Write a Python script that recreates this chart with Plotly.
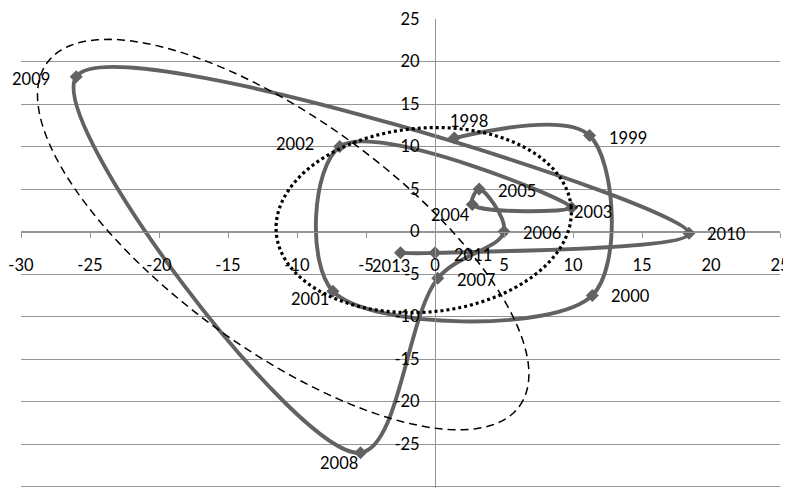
import numpy as np
import plotly.graph_objects as go

# ---------------- data ----------------
years = ["1998", "1999", "2000", "2001", "2002", "2003", "2004", "2005",
         "2006", "2007", "2008", "2009", "2010", "2011", "2013"]
x_vals = [1.4, 11.2, 11.4, -7.4, -6.9, 9.9, 2.7, 3.2,
          5.0, 0.2, -5.4, -26.0, 18.4, 0.0, -2.5]
y_vals = [11.0, 11.3, -7.5, -7.0, 10.0, 2.8, 3.2, 5.0,
          0.0, -5.5, -26.0, 18.2, -0.2, -2.5, -2.5]

x_ticks = [-30, -25, -20, -15, -10, -5, 0, 5, 10, 15, 20, 25]
x_tick_labels = ["-30", "-25", "-20", "-15", "-10", "-5", "0", "5", "10", "15", "20", "25"]
y_ticks = [-30, -25, -20, -15, -10, -5, 0, 5, 10, 15, 20, 25]
y_tick_labels = ["-30", "-25", "-20", "-15", "-10", "-5", "0", "5", "10", "15", "20", "25"]

# ---------------- style / layout ----------------
# the page body has an 8px default margin, so the figure is sized to fit
W, H = 783, 482
ML, MR, MT, MB = 13, 11, 11, 2
XR = (-30, 25)
YR = (-30.15, 25)
SX = (W - ML - MR) / (XR[1] - XR[0])   # px per x unit
SY = (H - MT - MB) / (YR[1] - YR[0])   # px per y unit

LINE_COL = "#626262"
GRID_COL = "#959595"
FONT = dict(family="Lato, Carlito, 'Open Sans', sans-serif", size=16.5, color="#000000")

# label offsets (px, right / down) relative to each marker
label_offsets = {
    "1998": (15, -17), "1999": (38, 2), "2000": (38, 1), "2001": (-23, 8),
    "2002": (-45, -3), "2003": (21, 4), "2004": (-22, 11), "2005": (38, 2),
    "2006": (38, 1), "2007": (38, 2), "2008": (-21, 10), "2009": (-45, 2),
    "2010": (38, 1), "2011": (38, 2), "2013": (-10, 13),
}

fig = go.Figure()
fig.add_trace(go.Scatter(
    x=x_vals, y=y_vals, mode="lines+markers",
    line=dict(color=LINE_COL, width=3.9, shape="spline", smoothing=1.0),
    marker=dict(symbol="diamond", size=10, color=LINE_COL),
    hoverinfo="skip", showlegend=False,
))

for yr, xv, yv in zip(years, x_vals, y_vals):
    dx, dy = label_offsets[yr]
    fig.add_annotation(x=xv, y=yv, text=yr, showarrow=False,
                       xanchor="center", yanchor="middle",
                       xshift=dx, yshift=-dy, font=FONT)


def ellipse_path(cx, cy, a_px, b_px, ang_deg, n=160):
    """Closed ellipse path in data coords; semi-axes given in screen px,
    angle measured counter-clockwise on screen."""
    ang = np.radians(ang_deg)
    t = np.linspace(0, 2 * np.pi, n, endpoint=False)
    ox = a_px * np.cos(t) * np.cos(ang) - b_px * np.sin(t) * np.sin(ang)
    oy = a_px * np.cos(t) * np.sin(ang) + b_px * np.sin(t) * np.cos(ang)
    xs = cx + ox / SX
    ys = cy + oy / SY
    return "M " + " L ".join(f"{a:.4f},{b:.4f}" for a, b in zip(xs, ys)) + " Z"


# dashed (wide, tilted) ellipse
fig.add_shape(type="path", xref="x", yref="y", layer="above",
              path=ellipse_path(-11.0, -0.35, 292, 115, -36),
              line=dict(color="black", width=1.5, dash="8px,5px"))
# dotted ellipse
fig.add_shape(type="path", xref="x", yref="y", layer="above",
              path=ellipse_path(-0.82, 1.35, 148, 92, 5),
              line=dict(color="black", width=3.2, dash="3px,3px"))

zero_frac_x = (0 - XR[0]) / (XR[1] - XR[0])
zero_frac_y = (0 - YR[0]) / (YR[1] - YR[0])

fig.update_layout(
    width=W, height=H,
    margin=dict(l=ML, r=MR, t=MT, b=MB, pad=0, autoexpand=False),
    paper_bgcolor="white", plot_bgcolor="white",
    font=FONT,
    showlegend=False,
    xaxis=dict(
        range=list(XR), tickmode="array", tickvals=x_ticks, ticktext=x_tick_labels,
        showgrid=False, zeroline=False, automargin=False,
        showline=True, linecolor=GRID_COL, linewidth=1,
        ticks="outside", ticklen=5, tickcolor=GRID_COL, tickwidth=1,
        anchor="free", position=zero_frac_y,
        ticklabelstandoff=14,
        tickfont=FONT, fixedrange=True,
    ),
    yaxis=dict(
        range=list(YR), tickmode="array", tickvals=y_ticks, ticktext=y_tick_labels,
        showgrid=True, gridcolor=GRID_COL, gridwidth=1, zeroline=False, automargin=False,
        showline=True, linecolor=GRID_COL, linewidth=1,
        ticks="", anchor="free", position=zero_frac_x,
        ticklabelstandoff=12,
        tickfont=FONT, fixedrange=True,
    ),
)

fig.write_html("out.html")
